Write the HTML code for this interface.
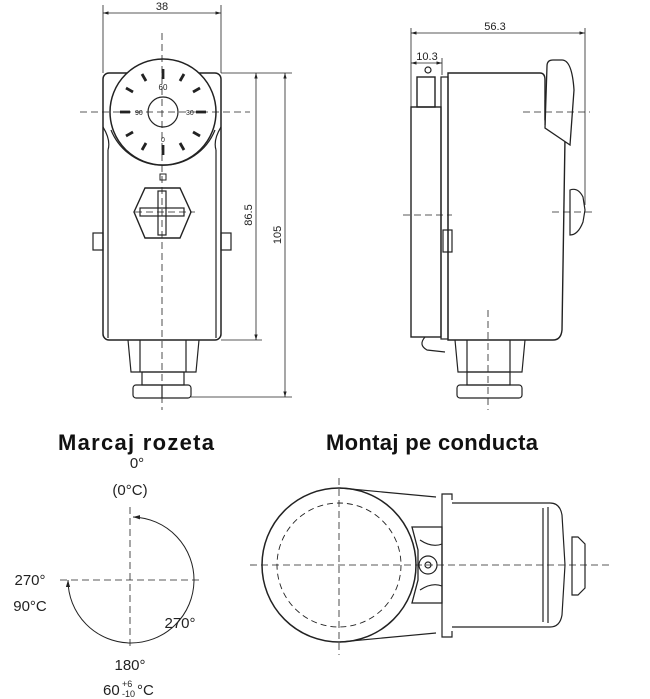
<!DOCTYPE html>
<html><head><meta charset="utf-8"><style>
html,body{margin:0;padding:0;background:#fff}
svg{display:block}
text{font-family:"Liberation Sans",sans-serif;fill:#222}
.t{font-family:"Liberation Sans",sans-serif;font-weight:bold;font-size:22px;fill:#111}
</style></head><body>
<svg width="650" height="699" viewBox="0 0 650 699" xmlns="http://www.w3.org/2000/svg" fill="none" stroke="#222" stroke-width="1.2">
<defs>
<marker id="a" viewBox="0 0 10 10" refX="10" refY="5" markerWidth="7" markerHeight="7" orient="auto-start-reverse"><path d="M0,2 L10,5 L0,8z" fill="#222" stroke="none"/></marker>
</defs>
<!-- FRONT VIEW -->
<g>
<line x1="103" y1="5" x2="103" y2="73" stroke-width="0.8"/>
<line x1="221" y1="5" x2="221" y2="73" stroke-width="0.8"/>
<line x1="103" y1="13" x2="221" y2="13" stroke-width="0.8" marker-start="url(#a)" marker-end="url(#a)"/>
<text x="162" y="10" font-size="11" text-anchor="middle" stroke="none">38</text>
<rect x="103" y="73" width="118" height="267" rx="6" stroke-width="1.5"/>
<path d="M103,127 Q111,140 108,150 M221,127 Q213,140 216,150" />
<line x1="108" y1="150" x2="108" y2="338"/><line x1="216" y1="150" x2="216" y2="338"/>
<circle cx="163" cy="112" r="53" fill="#fff" stroke-width="1.5"/>
<path d="M111,130 A56,56 0 0 0 215,130" />
<circle cx="163" cy="112" r="15"/>
<g stroke-width="2.8">
<line x1="163" y1="69" x2="163" y2="79"/><line x1="163" y1="145" x2="163" y2="155"/>
<line x1="120" y1="112" x2="130" y2="112"/><line x1="196" y1="112" x2="206" y2="112"/>
<line x1="142" y1="74" x2="146" y2="81"/><line x1="184" y1="74" x2="180" y2="81"/>
<line x1="126" y1="88" x2="133" y2="92"/><line x1="200" y1="88" x2="193" y2="92"/>
<line x1="126" y1="136" x2="133" y2="132"/><line x1="200" y1="136" x2="193" y2="132"/>
<line x1="142" y1="150" x2="146" y2="143"/><line x1="184" y1="150" x2="180" y2="143"/>
</g>
<text x="163" y="90" font-size="8" text-anchor="middle" stroke="none">60</text>
<text x="135" y="115" font-size="7" stroke="none">90</text>
<text x="186" y="115" font-size="7" stroke="none">30</text>
<text x="163" y="142" font-size="7" text-anchor="middle" stroke="none">0</text>
<rect x="160" y="174" width="6" height="6" stroke-width="1"/>
<path d="M134,212 L145,188 L180,188 L191,212 L180,238 L145,238 Z" fill="#fff" stroke-width="1.4"/>
<rect x="158" y="191" width="8" height="44"/><rect x="140" y="208" width="44" height="8"/>
<rect x="93" y="233" width="10" height="17"/><rect x="221" y="233" width="10" height="17"/>
<path d="M128,340 L131,372 L196,372 L199,340"/>
<line x1="140" y1="340" x2="140" y2="372"/><line x1="186" y1="340" x2="186" y2="372"/>
<rect x="142" y="372" width="42" height="13"/>
<rect x="133" y="385" width="58" height="13" rx="3"/>
<line x1="162" y1="385" x2="162" y2="398"/>
<g stroke-dasharray="7,4" stroke-width="0.8">
<line x1="162" y1="33" x2="162" y2="410"/><line x1="80" y1="112" x2="250" y2="112"/><line x1="135" y1="212" x2="195" y2="212"/>
</g>
<line x1="221" y1="73" x2="292" y2="73" stroke-width="0.8"/>
<line x1="221" y1="340" x2="262" y2="340" stroke-width="0.8"/>
<line x1="191" y1="397" x2="292" y2="397" stroke-width="0.8"/>
<line x1="256" y1="73" x2="256" y2="340" stroke-width="0.8" marker-start="url(#a)" marker-end="url(#a)"/>
<line x1="285" y1="73" x2="285" y2="397" stroke-width="0.8" marker-start="url(#a)" marker-end="url(#a)"/>
<text transform="translate(252,215) rotate(-90)" font-size="11" text-anchor="middle" stroke="none">86.5</text>
<text transform="translate(281,235) rotate(-90)" font-size="11" text-anchor="middle" stroke="none">105</text>
</g>
<!-- SIDE VIEW -->
<g>
<line x1="411" y1="28" x2="411" y2="107" stroke-width="0.8"/>
<line x1="585" y1="28" x2="585" y2="205" stroke-width="0.8"/>
<line x1="442" y1="58" x2="442" y2="75" stroke-width="0.8"/>
<line x1="411" y1="33" x2="585" y2="33" stroke-width="0.8" marker-start="url(#a)" marker-end="url(#a)"/>
<line x1="411" y1="63" x2="442" y2="63" stroke-width="0.8" marker-start="url(#a)" marker-end="url(#a)"/>
<text x="495" y="30" font-size="11" text-anchor="middle" stroke="none">56.3</text>
<text x="427" y="60" font-size="11" text-anchor="middle" stroke="none">10.3</text>
<circle cx="428" cy="70" r="3"/>
<rect x="417" y="77" width="18" height="30" stroke-width="1.4"/>
<rect x="411" y="107" width="30" height="230" stroke-width="1.4"/>
<rect x="441" y="77" width="7" height="262"/>
<path d="M448,73 L540,73 Q545,73 545,80 L545,120 L565,138 L562,330 Q561,340 553,340 L448,340 Z" stroke-width="1.4"/>
<path d="M547,66 Q547,60 553,60 L562,60 Q572,60 574,90 L570,145 L545,128 Z" fill="#fff" stroke-width="1.3"/>
<line x1="545" y1="100" x2="545" y2="125"/>
<path d="M570,190 Q578,187 583,197 L585,210 L583,222 Q578,235 570,235 Z" fill="#fff"/>
<rect x="443" y="230" width="9" height="22"/>
<path d="M425,337 Q418,345 427,350 L445,352"/>
<path d="M455,340 L458,372 L522,372 L525,340"/>
<line x1="467" y1="340" x2="467" y2="372"/><line x1="510" y1="340" x2="510" y2="372"/>
<rect x="467" y="372" width="43" height="13"/>
<rect x="457" y="385" width="65" height="13" rx="3"/>
<g stroke-dasharray="7,4" stroke-width="0.8">
<line x1="523" y1="112" x2="590" y2="112"/><line x1="403" y1="215" x2="452" y2="215"/><line x1="552" y1="212" x2="595" y2="212"/>
<line x1="488" y1="310" x2="488" y2="410"/>
</g>
</g>
<!-- TITLES -->
<text class="t" x="136" y="450" text-anchor="middle" stroke="none" textLength="156" lengthAdjust="spacing">Marcaj rozeta</text>
<text class="t" x="432" y="450" text-anchor="middle" stroke="none" textLength="212" lengthAdjust="spacing">Montaj pe conducta</text>
<!-- ROZETA -->
<g>
<g stroke-dasharray="7,4" stroke-width="0.8">
<line x1="130" y1="507" x2="130" y2="650"/><line x1="60" y1="580" x2="200" y2="580"/>
</g>
<path d="M133,517 A63,63 0 1 1 68,580" stroke-width="1" marker-start="url(#a)" marker-end="url(#a)"/>
<g font-size="15" stroke="none">
<text x="137" y="468" text-anchor="middle">0°</text>
<text x="130" y="495" text-anchor="middle">(0°C)</text>
<text x="30" y="585" text-anchor="middle">270°</text>
<text x="30" y="611" text-anchor="middle">90°C</text>
<text x="180" y="628" text-anchor="middle">270°</text>
<text x="130" y="670" text-anchor="middle">180°</text>
<text x="103" y="695">60</text>
<text x="122" y="687" font-size="9">+6</text>
<text x="122" y="697" font-size="9">-10</text>
<text x="137" y="695">°C</text>
</g>
</g>
<!-- MONTAJ -->
<g>
<circle cx="339" cy="565" r="77" stroke-width="1.5"/>
<circle cx="339" cy="565" r="62" stroke-dasharray="6,4" stroke-width="0.9"/>
<line x1="340" y1="488" x2="436" y2="497"/><line x1="340" y1="642" x2="436" y2="633"/>
<path d="M446,494 L442,494 L442,637 L446,637 M442,494 L452,494 L452,500 M442,637 L452,637 L452,631"/>
<path d="M452,503 L550,503 Q560,503 562,515 L565,565 L562,615 Q560,627 550,627 L452,627"/>
<path d="M543,508 L543,622 M548,507 L548,623"/>
<path d="M578,537 L572,537 L572,595 L578,595 L585,588 L585,544 Z"/>
<path d="M412,527 L442,527 L442,603 L412,603 L418,580 L418,550 Z" stroke-width="1.3"/>
<path d="M420,540 Q432,548 442,544 M420,590 Q432,582 442,586"/>
<circle cx="428" cy="565" r="9" fill="#fff"/><circle cx="428" cy="565" r="3"/>
<g stroke-dasharray="7,4" stroke-width="0.8">
<line x1="250" y1="565" x2="610" y2="565"/><line x1="339" y1="478" x2="339" y2="655"/>
</g>
</g>
</svg>
</body></html>
